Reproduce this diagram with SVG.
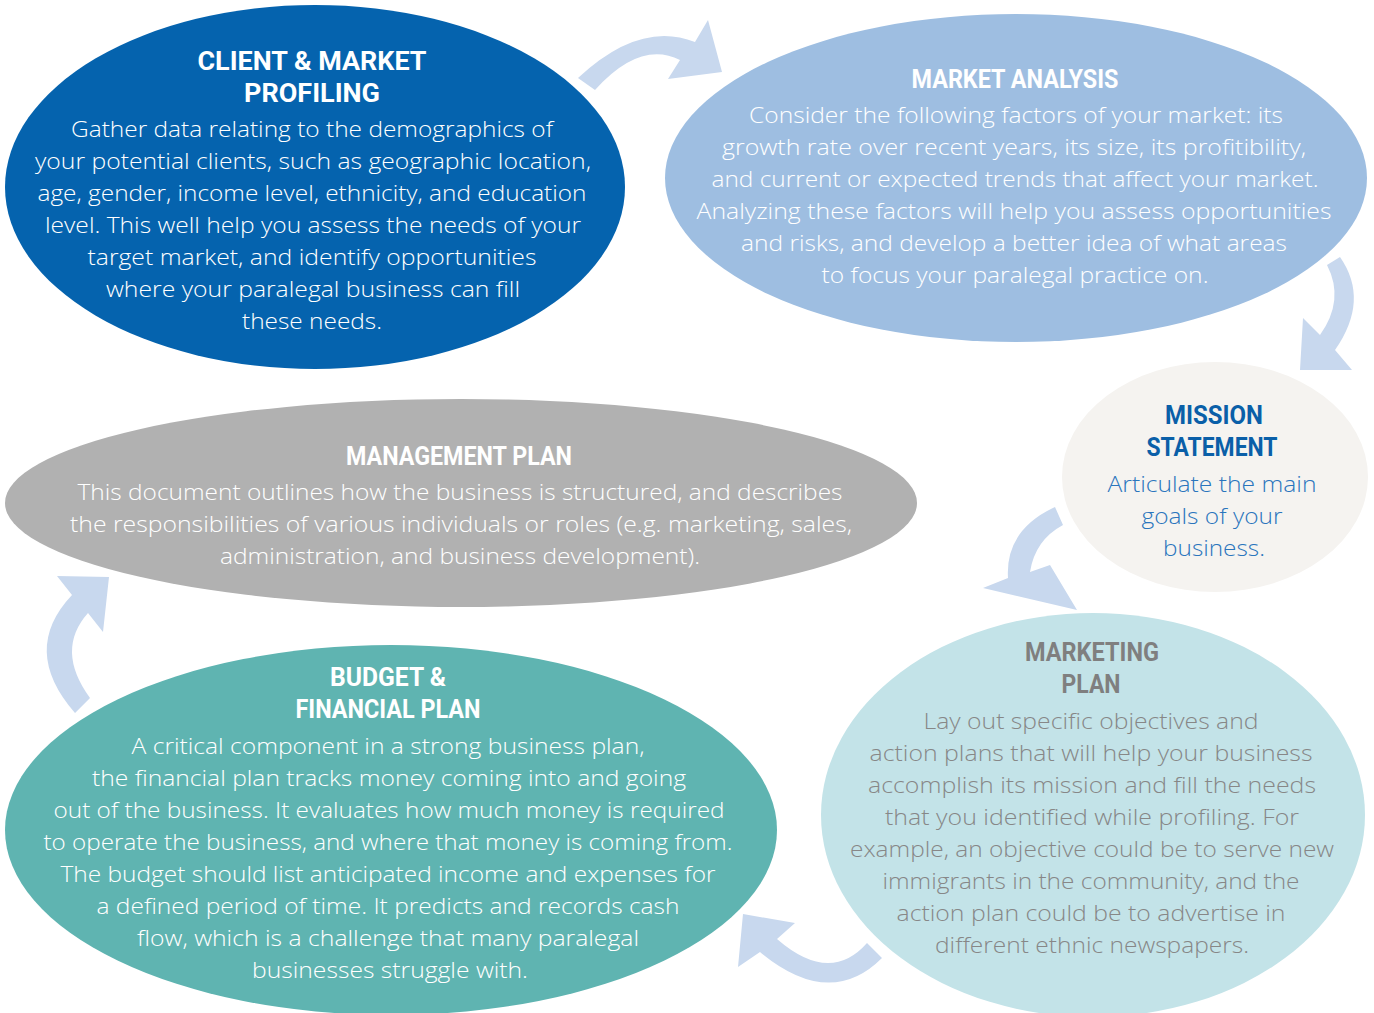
<svg xmlns="http://www.w3.org/2000/svg" width="1374" height="1013" viewBox="0 0 1374 1013">
<style>
.h{font-family:Roboto,"Liberation Sans",sans-serif;font-weight:700;font-size:26px;text-anchor:middle}
.b{font-family:"Open Sans","Noto Sans","Liberation Sans",sans-serif;font-weight:300;font-size:22px;text-anchor:middle}
.w{fill:#ffffff}
.arr{fill:#c8d8ee}
</style>
<rect width="1374" height="1013" fill="#ffffff"/>
<g id="node-client">
<ellipse cx="315" cy="187" rx="310" ry="182" fill="#0563ae"/>
<text class="h w" x="312" y="70" textLength="229" lengthAdjust="spacingAndGlyphs">CLIENT &amp; MARKET</text>
<text class="h w" x="312" y="102" textLength="136" lengthAdjust="spacingAndGlyphs">PROFILING</text>
<text class="b w" x="312" y="137" textLength="482" lengthAdjust="spacingAndGlyphs">Gather data relating to the demographics of</text>
<text class="b w" x="313" y="169" textLength="556" lengthAdjust="spacingAndGlyphs">your potential clients, such as geographic location,</text>
<text class="b w" x="312" y="201" textLength="549" lengthAdjust="spacingAndGlyphs">age, gender, income level, ethnicity, and education</text>
<text class="b w" x="313" y="233" textLength="536" lengthAdjust="spacingAndGlyphs">level. This well help you assess the needs of your</text>
<text class="b w" x="312" y="265" textLength="449" lengthAdjust="spacingAndGlyphs">target market, and identify opportunities</text>
<text class="b w" x="313" y="297" textLength="414" lengthAdjust="spacingAndGlyphs">where your paralegal business can fill</text>
<text class="b w" x="312" y="329" textLength="140" lengthAdjust="spacingAndGlyphs">these needs.</text>
</g>
<g id="node-market">
<ellipse cx="1016" cy="178" rx="351" ry="164" fill="#9ebee1"/>
<text class="h w" x="1015" y="88" textLength="207" lengthAdjust="spacingAndGlyphs">MARKET ANALYSIS</text>
<text class="b w" x="1016" y="123" textLength="534" lengthAdjust="spacingAndGlyphs">Consider the following factors of your market: its</text>
<text class="b w" x="1014" y="155" textLength="584" lengthAdjust="spacingAndGlyphs">growth rate over recent years, its size, its profitibility,</text>
<text class="b w" x="1015" y="187" textLength="607" lengthAdjust="spacingAndGlyphs">and current or expected trends that affect your market.</text>
<text class="b w" x="1014" y="219" textLength="635" lengthAdjust="spacingAndGlyphs">Analyzing these factors will help you assess opportunities</text>
<text class="b w" x="1014" y="251" textLength="546" lengthAdjust="spacingAndGlyphs">and risks, and develop a better idea of what areas</text>
<text class="b w" x="1015" y="283" textLength="387" lengthAdjust="spacingAndGlyphs">to focus your paralegal practice on.</text>
</g>
<g id="node-mission">
<ellipse cx="1215" cy="477" rx="153" ry="115" fill="#f5f3f0"/>
<text class="h" x="1214" y="424" fill="#0a5fa8" textLength="98" lengthAdjust="spacingAndGlyphs">MISSION</text>
<text class="h" x="1212" y="456" fill="#0a5fa8" textLength="131" lengthAdjust="spacingAndGlyphs">STATEMENT</text>
<text class="b" x="1212" y="492" fill="#2a75bd" textLength="209" lengthAdjust="spacingAndGlyphs">Articulate the main</text>
<text class="b" x="1212" y="524" fill="#2a75bd" textLength="141" lengthAdjust="spacingAndGlyphs">goals of your</text>
<text class="b" x="1214" y="556" fill="#2a75bd" textLength="102" lengthAdjust="spacingAndGlyphs">business.</text>
</g>
<g id="node-management">
<ellipse cx="461" cy="503" rx="456" ry="104" fill="#b1b1b1"/>
<text class="h w" x="459" y="465" textLength="226" lengthAdjust="spacingAndGlyphs">MANAGEMENT PLAN</text>
<text class="b w" x="460" y="500" textLength="765" lengthAdjust="spacingAndGlyphs">This document outlines how the business is structured, and describes</text>
<text class="b w" x="461" y="532" textLength="782" lengthAdjust="spacingAndGlyphs">the responsibilities of various individuals or roles (e.g. marketing, sales,</text>
<text class="b w" x="460" y="564" textLength="480" lengthAdjust="spacingAndGlyphs">administration, and business development).</text>
</g>
<g id="node-marketing">
<ellipse cx="1093" cy="815" rx="272" ry="202" fill="#c3e3e8"/>
<text class="h" x="1092" y="661" fill="#7f7f7f" textLength="134" lengthAdjust="spacingAndGlyphs">MARKETING</text>
<text class="h" x="1091" y="693" fill="#7f7f7f" textLength="59" lengthAdjust="spacingAndGlyphs">PLAN</text>
<text class="b" x="1091" y="729" fill="#878787" textLength="335" lengthAdjust="spacingAndGlyphs">Lay out specific objectives and</text>
<text class="b" x="1091" y="761" fill="#878787" textLength="443" lengthAdjust="spacingAndGlyphs">action plans that will help your business</text>
<text class="b" x="1092" y="793" fill="#878787" textLength="448" lengthAdjust="spacingAndGlyphs">accomplish its mission and fill the needs</text>
<text class="b" x="1092" y="825" fill="#878787" textLength="414" lengthAdjust="spacingAndGlyphs">that you identified while profiling. For</text>
<text class="b" x="1092" y="857" fill="#878787" textLength="484" lengthAdjust="spacingAndGlyphs">example, an objective could be to serve new</text>
<text class="b" x="1091" y="889" fill="#878787" textLength="417" lengthAdjust="spacingAndGlyphs">immigrants in the community, and the</text>
<text class="b" x="1091" y="921" fill="#878787" textLength="389" lengthAdjust="spacingAndGlyphs">action plan could be to advertise in</text>
<text class="b" x="1092" y="953" fill="#878787" textLength="314" lengthAdjust="spacingAndGlyphs">different ethnic newspapers.</text>
</g>
<g id="node-budget">
<ellipse cx="391" cy="830" rx="386" ry="185" fill="#5fb4b1"/>
<text class="h w" x="388" y="686" textLength="116" lengthAdjust="spacingAndGlyphs">BUDGET &amp;</text>
<text class="h w" x="388" y="718" textLength="185" lengthAdjust="spacingAndGlyphs">FINANCIAL PLAN</text>
<text class="b w" x="388" y="754" textLength="513" lengthAdjust="spacingAndGlyphs">A critical component in a strong business plan,</text>
<text class="b w" x="389" y="786" textLength="594" lengthAdjust="spacingAndGlyphs">the financial plan tracks money coming into and going</text>
<text class="b w" x="389" y="818" textLength="671" lengthAdjust="spacingAndGlyphs">out of the business. It evaluates how much money is required</text>
<text class="b w" x="388" y="850" textLength="689" lengthAdjust="spacingAndGlyphs">to operate the business, and where that money is coming from.</text>
<text class="b w" x="388" y="882" textLength="655" lengthAdjust="spacingAndGlyphs">The budget should list anticipated income and expenses for</text>
<text class="b w" x="388" y="914" textLength="583" lengthAdjust="spacingAndGlyphs">a defined period of time. It predicts and records cash</text>
<text class="b w" x="388" y="946" textLength="502" lengthAdjust="spacingAndGlyphs">flow, which is a challenge that many paralegal</text>
<text class="b w" x="390" y="978" textLength="276" lengthAdjust="spacingAndGlyphs">businesses struggle with.</text>
</g>
<g id="connectors">
<path class="arr" d="M578,78 Q640,20 695,42 L708,20 L722,72 L668,79 L680,60 Q640,40 595,90 Z"/>
<path class="arr" d="M1327,265 L1340,257 Q1370,300 1335,350 L1352,370 L1300,370 L1303,318 L1320,335 Q1345,300 1327,265 Z"/>
<path class="arr" d="M1055,507 L1063,525 Q1035,540 1030,572 L1050,565 L1077,610 L983,588 L1008,578 Q1005,530 1055,507 Z"/>
<path class="arr" d="M867,943 L882,958 Q830,1010 760,952 L738,967 L743,914 L795,923 L777,939 Q830,985 867,943 Z"/>
<path class="arr" d="M75,713 Q20,650 72,595 L57,576 L109,577 L103,632 L88,613 Q55,650 90,698 Z"/>
</g>
</svg>
